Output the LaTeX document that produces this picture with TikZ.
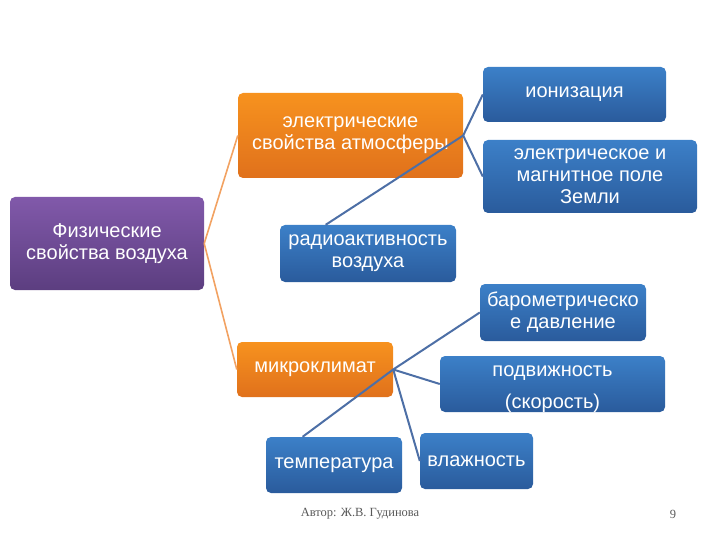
\documentclass[tikz,border=0pt]{standalone}
\usepackage{fontspec}
\setmainfont{Liberation Sans}
\newfontfamily\footfont{Liberation Serif}
\usetikzlibrary{calc,positioning,shapes}
\definecolor{bluetop}{HTML}{3C80C8}
\definecolor{bluebot}{HTML}{2A5B9C}
\definecolor{orangetop}{HTML}{F7921E}
\definecolor{orangebot}{HTML}{E0711C}
\definecolor{purpletop}{HTML}{8159AA}
\definecolor{purplebot}{HTML}{5C3E80}
\definecolor{orangeln}{HTML}{F2A262}
\definecolor{blueln}{HTML}{4D6FA6}
\definecolor{footgray}{HTML}{595959}
\tikzstyle{smartbox} = [rectangle, rounded corners=5pt, align=center, text=white,
	font=\fontsize{20}{22}\selectfont, inner sep=2pt]
\tikzstyle{bluebox} = [smartbox, top color=bluetop, bottom color=bluebot]
\tikzstyle{orangebox} = [smartbox, top color=orangetop, bottom color=orangebot]
\tikzstyle{purplebox} = [smartbox, top color=purpletop, bottom color=purplebot]
\tikzstyle{orangeline} = [orangeln, line width=1.6pt]
\tikzstyle{blueline} = [blueln, line width=2pt]
\tikzstyle{footer} = [font=\footfont\fontsize{12.5}{14}\selectfont, text=footgray]

\begin{document}
\begin{tikzpicture}[x=1pt,y=-1pt]
	\useasboundingbox (0,0) rectangle (720,540);
	% boxes
	\node[purplebox, minimum width=194pt, minimum height=93pt] (phys) at (107,243.5)
		{Физические\\свойства воздуха};
	\node[orangebox, minimum width=225pt, minimum height=85pt] (elec) at (350.5,135.5)
		{электрические\\свойства атмосферы};
	\node[orangebox, minimum width=156pt, minimum height=55pt] (micro) at (315,369.5)
		{микроклимат};
	\node[bluebox, minimum width=176pt, minimum height=57pt] (radio) at (368,253.5)
		{радиоактивность\\воздуха};
	\node[bluebox, minimum width=183pt, minimum height=55pt] (ion) at (574.5,94.5)
		{ионизация};
	\node[bluebox, minimum width=214pt, minimum height=73pt] (field) at (590,176.5)
		{электрическое и\\магнитное поле\\Земли};
	\node[bluebox, minimum width=166pt, minimum height=57pt] (baro) at (563,312.5)
		{барометрическо\\е давление};
	\node[bluebox, minimum width=225pt, minimum height=56pt, text depth=0pt] (podv) at (552.5,384)
		{\rule{0pt}{17pt}подвижность\\[10pt](скорость)};
	\node[bluebox, minimum width=136pt, minimum height=56pt] (temp) at (334,465)
		{температура};
	\node[bluebox, minimum width=113pt, minimum height=56pt] (hum) at (476.5,461)
		{влажность};
	% connectors
	\draw[orangeline] (phys.east) -- (elec.west);
	\draw[orangeline] (phys.east) -- (micro.west);
	\draw[blueline] (elec.east) -- (ion.west);
	\draw[blueline] (elec.east) -- (field.west);
	\draw[blueline] (elec.east) -- ($(radio.north west)!0.26!(radio.north east)$);
	\draw[blueline] (micro.east) -- (baro.west);
	\draw[blueline] (micro.east) -- (podv.west);
	\draw[blueline] (micro.east) -- (hum.west);
	\draw[blueline] (micro.east) -- ($(temp.north west)!0.27!(temp.north east)$);
	% footer
	\node[footer] (author) at (360,514) {Автор: Ж.В. Гудинова};
	\node[footer] (pagenum) at (673,514) {9};
\end{tikzpicture}
\end{document}
